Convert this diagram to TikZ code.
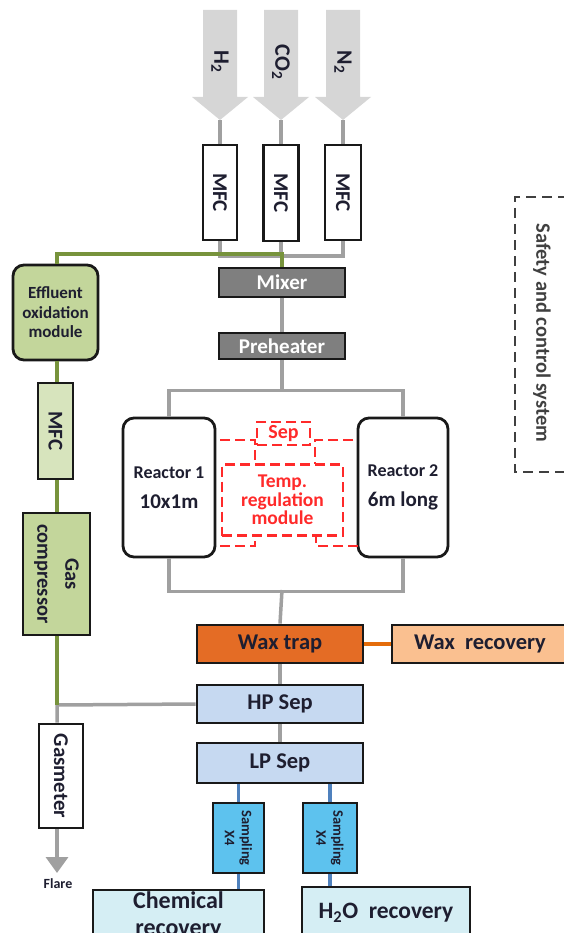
\documentclass[tikz,border=0pt]{standalone}
\usepackage{fontspec}
\setmainfont{Carlito}
\usetikzlibrary{arrows.meta}
\definecolor{gl}{HTML}{A0A0A0}
\definecolor{grn}{HTML}{77933C}
\definecolor{org}{HTML}{E46C0A}
\definecolor{blu}{HTML}{4F81BD}
\definecolor{txt}{HTML}{1E1E30}
\definecolor{gasc}{HTML}{D6D6D6}
\definecolor{mixc}{HTML}{7F7F7F}
\definecolor{waxc}{HTML}{E46C25}
\definecolor{waxr}{HTML}{FAC090}
\definecolor{sepc}{HTML}{C6D9F1}
\definecolor{smpc}{HTML}{5DC2EE}
\definecolor{recc}{HTML}{D5EEF4}
\definecolor{effc}{HTML}{C3D69B}
\definecolor{mfcg}{HTML}{D7E4BD}
\definecolor{redd}{HTML}{FF2A2A}
\definecolor{safc}{HTML}{404040}
\newcommand\fsz[2]{\fontsize{#1}{#2}\selectfont}
\begin{document}
\begin{tikzpicture}[x=1pt,y=-1pt,
  fnt/.style={font=\bfseries\fontsize{#1}{#1}\selectfont},
  box/.style={draw=black!90, line width=2.8pt, inner sep=0pt, text=txt, align=center},
  vbox/.style={box, rotate=-90},
  gline/.style={draw=gl, line width=3.5pt},
  grline/.style={draw=grn, line width=3.5pt},
  oline/.style={draw=org, line width=3.2pt},
  bline/.style={draw=blu, line width=3.5pt},
  reddash/.style={draw=redd, line width=2.8pt, dash pattern=on 10pt off 5pt},
  safety/.style={draw=safc, line width=1.8pt, dash pattern=on 10pt off 6pt}
]
\useasboundingbox (0,0) rectangle (564,933);

% gas inlet arrows
\foreach \x/\lab/\nm in {220/{H\textsubscript{2}}/gh, 281/{CO\textsubscript{2}}/gc, 343/{N\textsubscript{2}}/gn}{
  \fill[gasc] ({\x-17},10) -- ({\x+17},10) -- ({\x+17},97) -- ({\x+28},97) -- (\x,120) -- ({\x-28},97) -- ({\x-17},97) -- cycle;
  \node[rotate=-90, fnt=22, text=txt] (\nm) at (\x,62) {\lab};
  \coordinate (\nm tip) at (\x,120);
}

% MFCs
\node[vbox, fill=white, minimum width=95pt, minimum height=34pt, fnt=21] (mfca) at (220,192.5) {MFC};
\node[vbox, fill=white, minimum width=96pt, minimum height=35pt, fnt=21] (mfcb) at (281,193) {MFC};
\node[vbox, fill=white, minimum width=95pt, minimum height=36pt, fnt=21] (mfcc) at (343,192.5) {MFC};

% mixer and preheater
\node[box, fill=mixc, text=white, minimum width=126pt, minimum height=29pt, fnt=21] (mix) at (282,282.5) {Mixer};
\node[box, fill=mixc, text=white, minimum width=126pt, minimum height=26pt, fnt=21] (pre) at (282,346) {Preheater};

% reactors
\node[box, rounded corners=11pt, fill=white, minimum width=92pt, minimum height=139pt, font=\bfseries\fsz{18}{30}] (r1) at (169,487.5) {Reactor 1\\{\fsz{21}{30}10x1m}};
\node[box, rounded corners=11pt, fill=white, minimum width=90pt, minimum height=139pt, font=\bfseries\fsz{18}{30}] (r2) at (403,487.5) {Reactor 2\\{\fsz{21}{30}6m long}};

% temperature regulation (red dashed)
\node[reddash, text=redd, fnt=20, minimum width=53pt, minimum height=23pt, inner sep=0pt] (sep) at (283.5,433.5) {Sep};
\node[reddash, text=redd, font=\bfseries\fsz{19.5}{18.5}, align=center, minimum width=121pt, minimum height=71pt, inner sep=0pt] (temp) at (282.5,500) {Temp.\\regulation\\module};
\draw[reddash] (220,440) -- (255,440) -- (255,464);
\draw[reddash] (353,440) -- (315,440) -- (315,464);
\draw[reddash] (220,546) -- (255,546) -- (255,536);
\draw[reddash] (358,546) -- (316,546) -- (316,536);

% separation train
\node[box, fill=waxc, minimum width=166pt, minimum height=38pt, fnt=22.5] (wax) at (280,644) {Wax trap};
\node[box, fill=waxr, minimum width=176pt, minimum height=38pt, fnt=22.5] (waxrec) at (480,644) {Wax\ \ recovery};
\node[box, fill=sepc, minimum width=166pt, minimum height=38pt, fnt=22.5] (hp) at (280,704) {HP Sep};
\node[box, fill=sepc, minimum width=166pt, minimum height=40pt, fnt=22.5] (lp) at (280,763) {LP Sep};

% sampling
\node[vbox, fill=smpc, line width=2pt, minimum width=70pt, minimum height=51pt, font=\bfseries\fsz{14.5}{17}] (sa) at (238.5,838) {Sampling\\X4};
\node[vbox, fill=smpc, line width=2pt, minimum width=70pt, minimum height=54pt, font=\bfseries\fsz{14.5}{17}] (sb) at (330,838) {Sampling\\X4};

% recovery
\node[box, fill=recc, minimum width=171pt, minimum height=50pt, font=\bfseries\fsz{24}{27}] (chem) at (178.5,915) {Chemical\\recovery};
\node[box, fill=recc, minimum width=168pt, minimum height=52pt, fnt=23.5] (h2o) at (386,913) {H\textsubscript{2}O\ \ recovery};

% left column
\node[box, rounded corners=11pt, fill=effc, minimum width=85pt, minimum height=95pt, font=\bfseries\fsz{17}{19.5}] (eff) at (55.5,312.5) {Effluent\\oxidation\\module};
\node[vbox, fill=mfcg, minimum width=96pt, minimum height=35pt, fnt=21] (mfcg) at (55.5,431) {MFC};
\node[vbox, fill=effc, minimum width=122pt, minimum height=67pt, font=\bfseries\fsz{20.5}{28}] (comp) at (56.5,574) {Gas\\compressor};
\node[vbox, fill=white, minimum width=104pt, minimum height=44pt, fnt=21] (gasm) at (61,776) {Gasmeter};
\node[fnt=14, text=txt] (flaretxt) at (58,884) {Flare};

% safety and control system
\draw[safety] (600,197) -- (515,197) -- (515,472) -- (600,472);
\node[rotate=-90, fnt=20.5, text=safc] (saftxt) at (542,333) {Safety and control system};

% coordinates
\coordinate (gj) at (57,254);
\coordinate (split) at (282,392);
\coordinate (merge) at (282,590);
\coordinate (hpj) at (57,705);
\coordinate (flare) at (57,873);

% gray connectors
\draw[gline] (ghtip) -- (mfca.west);
\draw[gline] (gctip) -- (mfcb.west);
\draw[gline] (gntip) -- (mfcc.west);
\draw[gline] (mfca.east) -- (mfca.east |- 0,256) -- (mfcc.east |- 0,256) -- (mfcc.east);
\draw[gline] (mfcb.east) -- (mfcb.east |- 0,256);
\draw[gline] (mix.south) -- (pre.north);
\draw[gline] (pre.south) -- (split);
\draw[gline] (r1.north) -- ++(0,-26) -| (r2.north);
\draw[gline] (r1.south) -- ++(0,33) -| (r2.south);
\draw[gline] (merge) -- (wax.north);
\draw[gline] (wax.south) -- (hp.north);
\draw[gline] (hp.south) -- (lp.north);
\draw[gline] (hp.west) -- (hpj) -- (hpj |- gasm.west);
\draw[gline, -{Triangle[width=22pt,length=16pt]}] (hpj |- gasm.east) -- (flare);

% green connectors
\draw[grline] (eff.north -| gj) -- (gj) -- (gj -| mix.north) -- (mix.north);
\draw[grline] (eff.south -| gj) -- (mfcg.west -| gj);
\draw[grline] (mfcg.east -| gj) -- (comp.west -| gj);
\draw[grline] (comp.east -| gj) -- (hpj);

% orange and blue connectors
\draw[oline] (wax.east) -- (waxrec.west);
\draw[bline] (sa.west |- lp.south) -- (sa.west);
\draw[bline] (sa.east) -- (sa.east |- chem.north);
\draw[bline] (sb.west |- lp.south) -- (sb.west);
\draw[bline] (sb.east) -- (sb.east |- h2o.north);
\end{tikzpicture}
\end{document}
